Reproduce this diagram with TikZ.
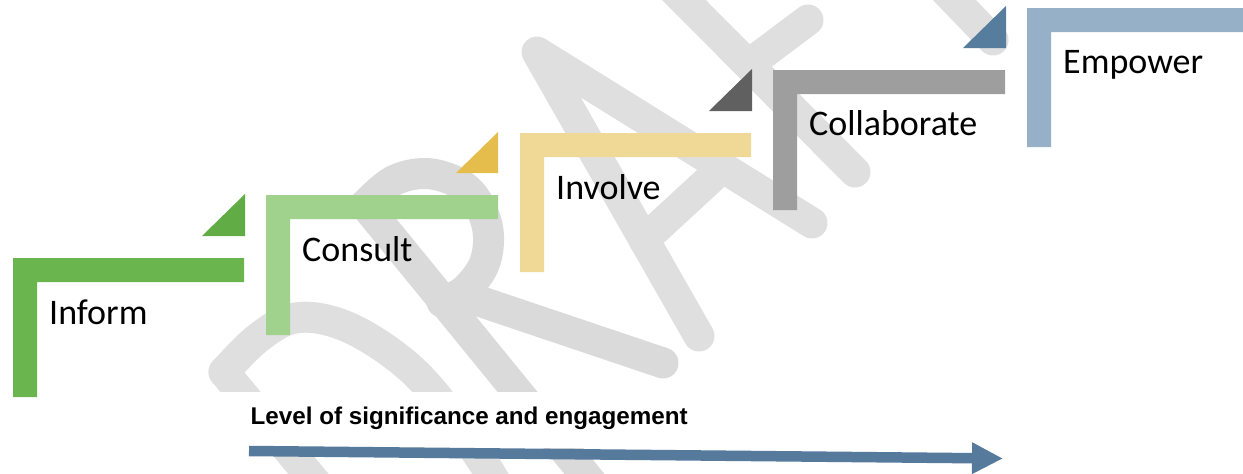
\documentclass[tikz,border=0pt]{standalone}
\usepackage{fontspec}
\setmainfont{Carlito}
\newfontfamily\lblfont{Liberation Sans}
\usetikzlibrary{arrows.meta}
\definecolor{wmgray}{RGB}{223,223,223}
\definecolor{wmgrayR}{RGB}{218,218,218}
\definecolor{informC}{HTML}{6AB54E}
\definecolor{greenT}{HTML}{62AC45}
\definecolor{consultC}{HTML}{A0D28D}
\definecolor{yellowT}{HTML}{E5BD4C}
\definecolor{involveC}{HTML}{F0D896}
\definecolor{darkT}{HTML}{606060}
\definecolor{collabC}{HTML}{9E9E9E}
\definecolor{blueT}{HTML}{567C9E}
\definecolor{empowerC}{HTML}{96B0C7}
\definecolor{arrowC}{HTML}{557A9C}
\begin{document}
\begin{tikzpicture}[x=1pt,y=-1pt,
  wm/.style={draw=wmgray,line width=31pt,line cap=round,line join=round},
  wmr/.style={draw=wmgrayR,line width=31pt,line cap=round,line join=round},
  stepl/.style={anchor=base west,inner sep=0pt,font=\fontsize{36}{43}\selectfont},
  lvl/.style={anchor=base west,inner sep=0pt,font=\lblfont\bfseries\fontsize{24.2}{29}\selectfont}
]
\useasboundingbox (0,0) rectangle (1243,474);
% ---- DRAFT watermark ----
% D
\draw[wm] (224,372) -- (330,500);
\draw[wm] plot[smooth,tension=0.6] coordinates {(224,372) (258,338) (295,318) (340,324) (390,352) (433,392) (483,462) (505,500)};
% R
\draw[wmr] (365,205) -- (600,493);
\draw[wmr] plot[smooth,tension=0.6] coordinates {(365,205) (395,180) (432,174) (468,190) (487,225) (485,262) (465,290) (442,302)};
\draw[wmr] (470,298) -- (663,363);
% A
\draw[wm] (699,336) -- (537,52) -- (812,223);
\draw[wm] (644,240) -- (722,168);
% F
\draw[wm] (664,-20) -- (855,172);
\draw[wm] (752,62) -- (808,20);
% T
\draw[wm] (935,-20) -- (993,40);
% white band behind the caption
\fill[white] (150,392) rectangle (760,448);
% ---- steps ----
\fill[informC] (13,258) -- (244,258) -- (244,282) -- (37,282) -- (37,397) -- (13,397) -- cycle;
\fill[greenT] (202,236) -- (245,236) -- (245,194) -- cycle;
\fill[consultC] (266,195) -- (498,195) -- (498,219) -- (290,219) -- (290,335) -- (266,335) -- cycle;
\fill[yellowT] (456,173) -- (498,173) -- (498,132) -- cycle;
\fill[involveC] (520,133) -- (751,133) -- (751,157) -- (544,157) -- (544,272) -- (520,272) -- cycle;
\fill[darkT] (709,111) -- (752,111) -- (752,69) -- cycle;
\fill[collabC] (773,70) -- (1005,70) -- (1005,94) -- (797,94) -- (797,210) -- (773,210) -- cycle;
\fill[blueT] (963,48) -- (1006,48) -- (1006,6) -- cycle;
\fill[empowerC] (1027,8) -- (1260,8) -- (1260,32) -- (1051,32) -- (1051,147) -- (1027,147) -- cycle;
% ---- labels ----
\node[stepl] (inform) at (49,324) {Inform};
\node[stepl] (consult) at (302,261) {Consult};
\node[stepl] (involve) at (556,199) {Involve};
\node[stepl] (collab) at (809,135) {Collaborate};
\node[stepl] (empower) at (1063,73) {Empower};
\node[lvl] (level) at (250.5,424) {Level of significance and engagement};
% ---- arrow ----
\coordinate (astart) at (249,451);
\coordinate (aend) at (1003,458.5);
\draw[arrowC,line width=10.5pt,-{Triangle[length=31pt,width=29.5pt]}] (astart) -- (aend);
\end{tikzpicture}
\end{document}
